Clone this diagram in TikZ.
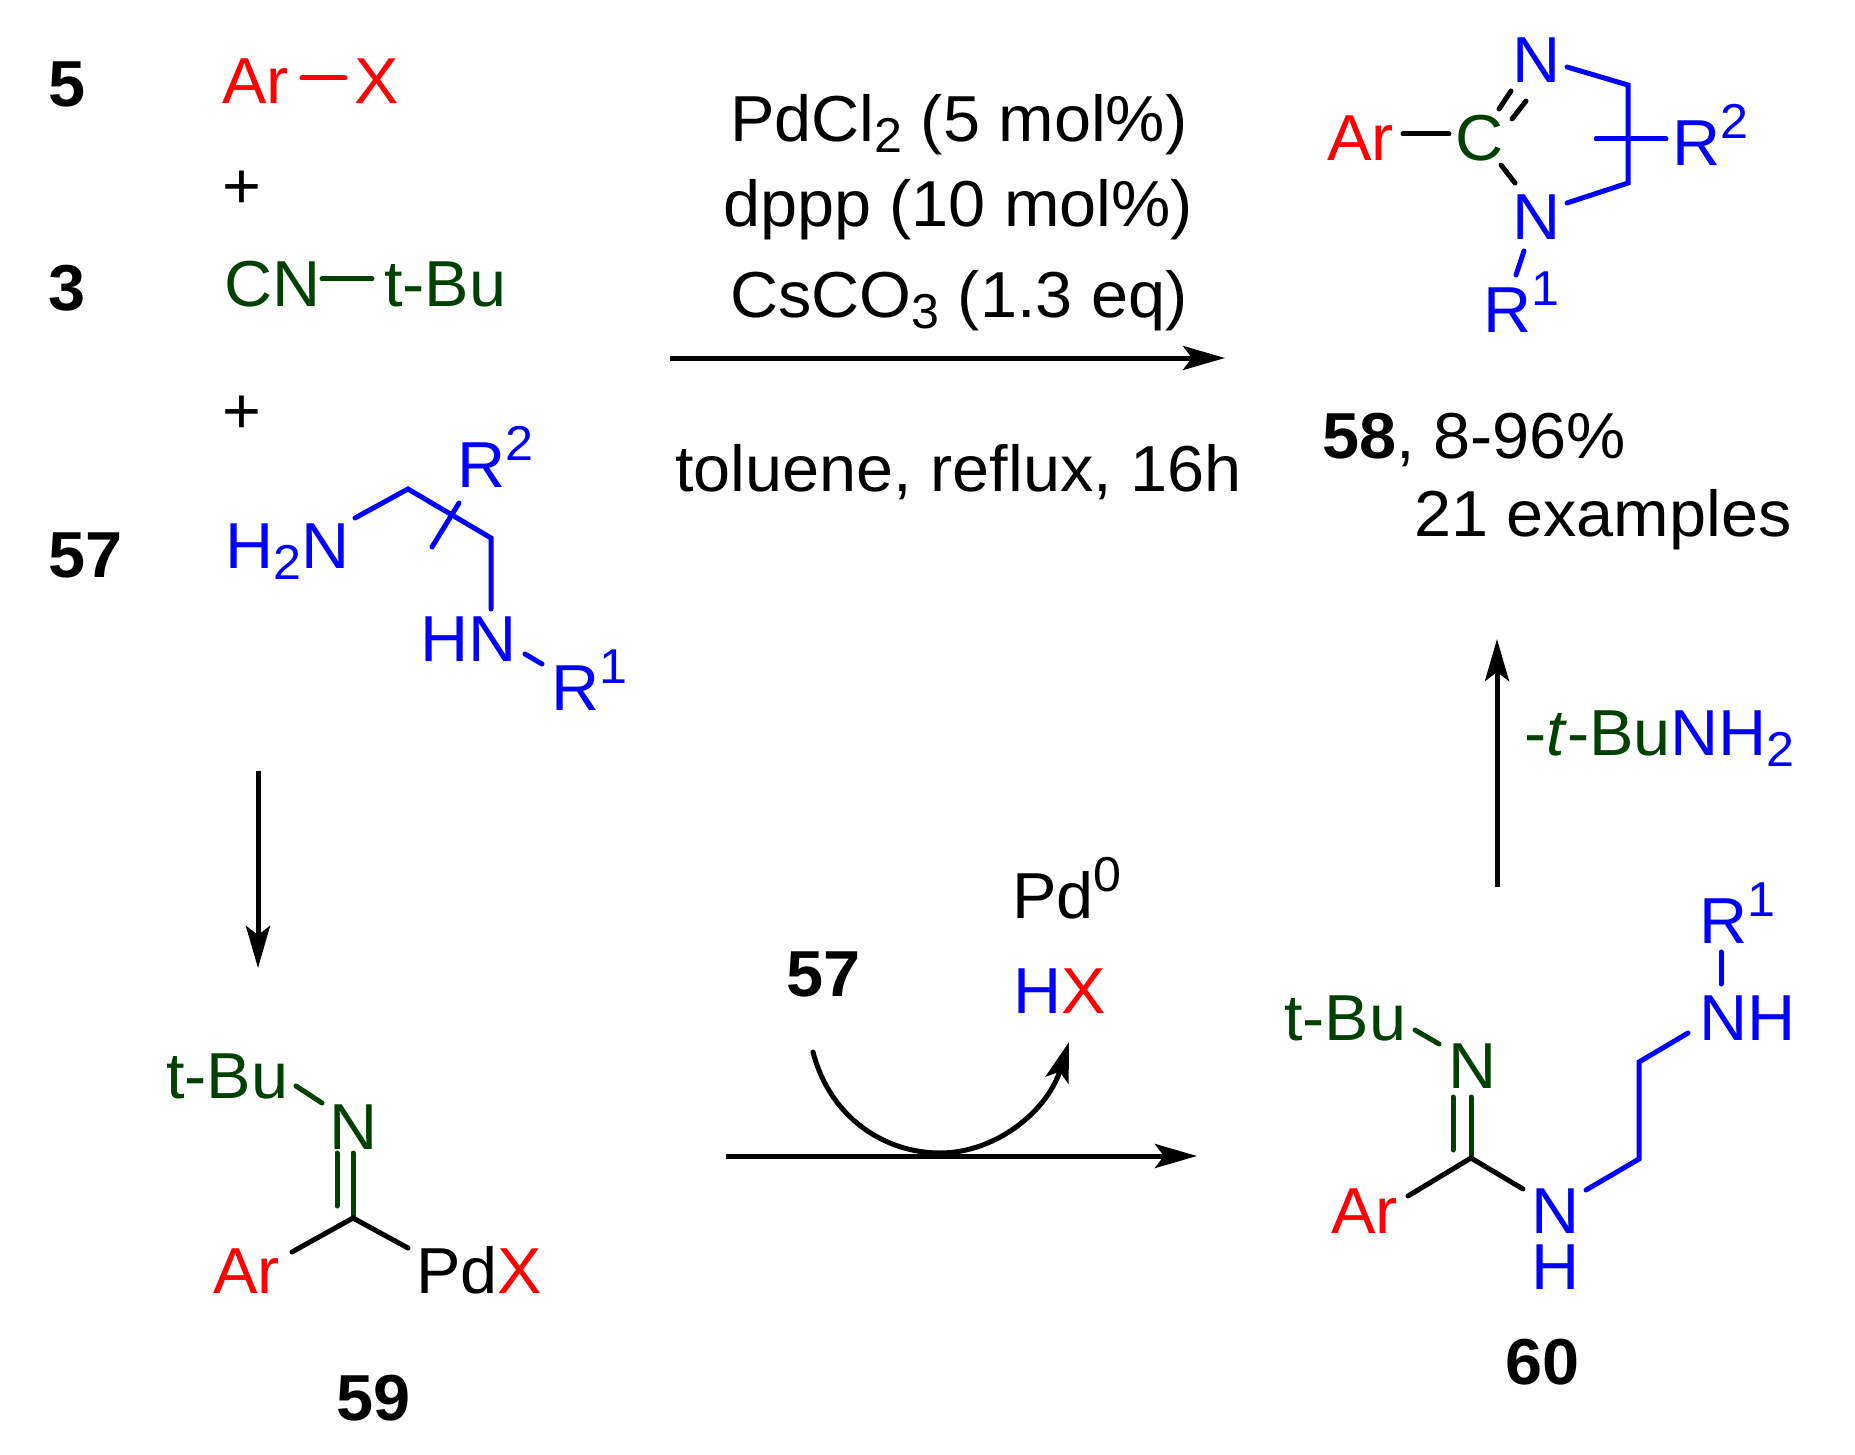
\documentclass[tikz,border=0pt]{standalone}
\usepackage{fontspec}
\setmainfont[FakeStretch=1.025]{Liberation Sans}
\usetikzlibrary{arrows.meta}
\definecolor{cred}{RGB}{255,0,0}
\definecolor{cblue}{RGB}{0,0,255}
\definecolor{cgreen}{RGB}{0,64,0}
\newcommand\mysup[1]{\raisebox{27pt}{\fontsize{49}{50}\selectfont #1}}
\newcommand\mysub[1]{\raisebox{-11pt}{\fontsize{49}{50}\selectfont #1}}
\tikzset{
  txt/.style={inner sep=0pt,outer sep=0pt,anchor=base west,font=\fontsize{65}{70}\selectfont},
  bold/.style={txt,font=\fontsize{65}{70}\selectfont\bfseries},
  bond/.style={line width=5pt,line cap=round,line join=miter},
  rxn/.style={line width=5pt,-{Stealth[length=42pt,width=24pt,inset=9pt]}},
}
\begin{document}
\begin{tikzpicture}[x=1pt,y=-1pt]
\useasboundingbox (0,0) rectangle (1855,1455);
\fill[white] (0,0) rectangle (1855,1455);
% left column
\node[bold] (n5) at (48,107) {5};
\node[txt,cred] (ar1) at (222,104) {Ar};
\node[txt,cred] (x1) at (354,104) {X};
\coordinate (b1a) at (302,78); \coordinate (b1b) at (345,78);
\draw[bond,cred] (b1a) -- (b1b);
\node[txt,anchor=center] (p1) at (242,190) {+};
\node[bold] (n3) at (48,311) {3};
\node[txt,cgreen] (cn) at (224,307) {CN};
\node[txt,cgreen] (tbu1) at (384,307) {t-Bu};
\coordinate (b2a) at (322,279); \coordinate (b2b) at (372,279);
\draw[bond,cgreen] (b2a) -- (b2b);
\node[txt,anchor=center] (p2) at (242,415) {+};
\node[bold] (n57) at (48,577) {57};
\node[txt,cblue] (h2n) at (225,568) {H\mysub{2}N};
\node[txt,cblue] (r2a) at (457,487) {R\mysup{2}};
\node[txt,cblue] (hn) at (420,661) {HN};
\node[txt,cblue] (r1a) at (551,710) {R\mysup{1}};
\coordinate (c1) at (355,518); \coordinate (c2) at (408,489); \coordinate (c3) at (491,538); \coordinate (c4) at (491,609);
\draw[bond,cblue] (c1) -- (c2) -- (c3) -- (c4);
\coordinate (c5) at (459,503); \coordinate (c6) at (432,547);
\draw[bond,cblue] (c5) -- (c6);
\coordinate (c7) at (525,654); \coordinate (c8) at (542,664);
\draw[bond,cblue] (c7) -- (c8);
% left arrow
\coordinate (a1a) at (258,771); \coordinate (a1b) at (258,968);
\draw[rxn] (a1a) -- (a1b);
% 59
\node[txt,cgreen] (tbu2) at (166,1098) {t-Bu};
\coordinate (d1) at (296,1086); \coordinate (d2) at (322,1103);
\draw[bond,cgreen] (d1) -- (d2);
\node[txt,cgreen] (n59) at (329,1149) {N};
\coordinate (d3) at (337,1153); \coordinate (d4) at (337,1206);
\coordinate (d5) at (353,1153); \coordinate (d6) at (353,1218);
\draw[bond,cgreen] (d3) -- (d4);
\draw[bond,cgreen] (d5) -- (d6);
\node[txt,cred] (ar2) at (213,1293) {Ar};
\coordinate (d7) at (292,1252); \coordinate (d8) at (408,1248);
\draw[bond] (d7) -- (d6) -- (d8);
\node[txt] (pdx) at (416,1293) {Pd\textcolor{cred}{X}};
\node[bold] (l59) at (336,1420) {59};
% middle arrow
\coordinate (m1) at (726,1156); \coordinate (m2) at (1197,1156);
\draw[rxn] (m1) -- (m2);
\node[bold] (m57) at (786,996) {57};
\node[txt] (pd0) at (1012,918) {Pd\mysup{0}};
\node[txt] (hx) at (1013,1013) {\textcolor{cblue}{H}\textcolor{cred}{X}};
\coordinate (s1) at (813,1052); \coordinate (s2) at (940,1153); \coordinate (s3) at (1069,1042);
\draw[line width=5pt,line cap=round,-{Stealth[length=40pt,width=24pt,inset=9pt]}] (s1) .. controls (830,1118) and (885,1153) .. (s2) .. controls (995,1153) and (1047,1112) .. (s3);
% top arrow and conditions
\coordinate (t1) at (670,358); \coordinate (t2) at (1225,358);
\draw[rxn] (t1) -- (t2);
\node[txt] (cond1) at (730,142) {PdCl\mysub{2} (5 mol\%)};
\node[txt] (cond2) at (723,227) {dppp (10 mol\%)};
\node[txt] (cond3) at (730,317) {CsCO\mysub{3} (1.3 eq)};
\node[txt] (cond4) at (675,491) {toluene, reflux, 16h};
% 58
\node[txt,cred] (ar3) at (1327,161) {Ar};
\node[txt,cgreen] (c58) at (1455,161) {C};
\node[txt,cblue] (n58a) at (1512,83) {N};
\node[txt,cblue] (n58b) at (1512,240) {N};
\node[txt,cblue] (r158) at (1483,332) {R\mysup{1}};
\node[txt,cblue] (r258) at (1672,166) {R\mysup{2}};
\coordinate (e1) at (1403,134); \coordinate (e2) at (1449,134);
\draw[bond] (e1) -- (e2);
\coordinate (e3) at (1511,91); \coordinate (e4) at (1499,109);
\coordinate (e5) at (1526,101); \coordinate (e6) at (1512,119);
\coordinate (e7) at (1501,165); \coordinate (e8) at (1515,183);
\draw[bond] (e3) -- (e4);
\draw[bond] (e5) -- (e6);
\draw[bond] (e7) -- (e8);
\coordinate (e9) at (1524,251); \coordinate (e10) at (1516,275);
\draw[bond,cblue] (e9) -- (e10);
\coordinate (f1) at (1567,67); \coordinate (f2) at (1628,85); \coordinate (f3) at (1628,183); \coordinate (f4) at (1567,203);
\draw[bond,cblue] (f1) -- (f2) -- (f3) -- (f4);
\coordinate (f5) at (1596,139); \coordinate (f6) at (1666,139);
\draw[bond,cblue] (f5) -- (f6);
\node[txt] (l58) at (1322,458) {\textbf{58}, 8-96\%};
\node[txt] (ex) at (1414,536) {21 examples};
% up arrow
\coordinate (u1) at (1497,887); \coordinate (u2) at (1497,639);
\draw[rxn] (u1) -- (u2);
\node[txt,cgreen] (tbunh) at (1524,755) {-\textit{t}-Bu\textcolor{cblue}{NH\mysub{2}}};
% 60
\node[txt,cgreen] (tbu3) at (1284,1040) {t-Bu};
\coordinate (g1) at (1415,1030); \coordinate (g2) at (1439,1044);
\draw[bond,cgreen] (g1) -- (g2);
\node[txt,cgreen] (n60) at (1448,1088) {N};
\coordinate (g3) at (1453,1097); \coordinate (g4) at (1453,1150);
\coordinate (g5) at (1471,1097); \coordinate (g6) at (1471,1158);
\draw[bond,cgreen] (g3) -- (g4);
\draw[bond,cgreen] (g5) -- (g6);
\node[txt,cred] (ar4) at (1331,1233) {Ar};
\coordinate (g7) at (1408,1196); \coordinate (g8) at (1523,1189);
\draw[bond] (g7) -- (g6) -- (g8);
\node[txt,cblue] (n60b) at (1531,1233) {N};
\node[txt,cblue] (h60) at (1531,1289) {H};
\coordinate (g9) at (1586,1190); \coordinate (g10) at (1639,1159); \coordinate (g11) at (1639,1062); \coordinate (g12) at (1688,1033);
\draw[bond,cblue] (g9) -- (g10) -- (g11) -- (g12);
\node[txt,cblue] (nh60) at (1699,1040) {NH};
\coordinate (g13) at (1721,952); \coordinate (g14) at (1721,984);
\draw[bond,cblue] (g13) -- (g14);
\node[txt,cblue] (r160) at (1699,943) {R\mysup{1}};
\node[bold] (l60) at (1505,1384) {60};
\end{tikzpicture}
\end{document}
